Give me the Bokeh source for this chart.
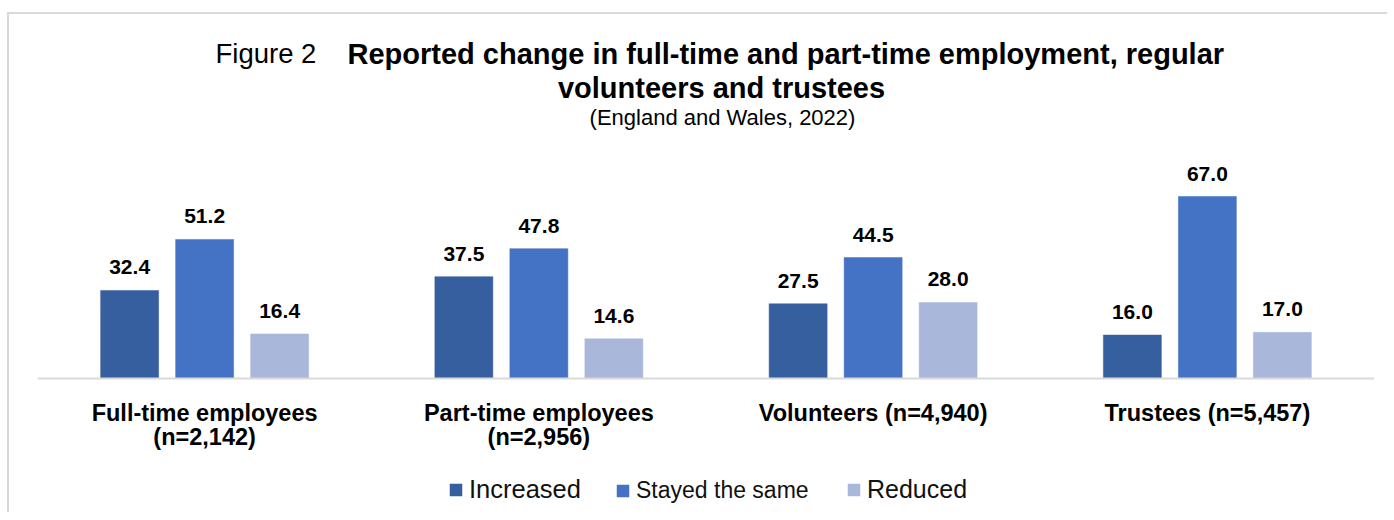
from bokeh.plotting import figure
from bokeh.models import (FactorRange, ColumnDataSource, Label, LabelSet, Legend,
                          LegendItem, Span, Range1d)
from bokeh.transform import dodge
from bokeh.core.properties import value
from bokeh.embed import file_html
from bokeh.resources import INLINE

# ---------------- data ----------------
categories = ["Full-time employees\n(n=2,142)", "Part-time employees\n(n=2,956)",
              "Volunteers (n=4,940)", "Trustees (n=5,457)"]
series = ["Increased", "Stayed the same", "Reduced"]
increased = [32.4, 37.5, 27.5, 16.0]
stayed = [51.2, 47.8, 44.5, 67.0]
reduced = [16.4, 14.6, 28.0, 17.0]
colors = ["#365F9F", "#4472C4", "#A9B7DB"]

FONT = "Liberation Sans"

lines = [c.split("\n") + [""] for c in categories]
src = ColumnDataSource(dict(
    cat=categories,
    line1=[l[0] for l in lines],
    line2=[l[1] for l in lines],
    zero=[0] * len(categories),
    inc=increased, sta=stayed, red=reduced,
    inc_l=[f"{v:.1f}" for v in increased],
    sta_l=[f"{v:.1f}" for v in stayed],
    red_l=[f"{v:.1f}" for v in reduced],
))

# ---------------- geometry (pixels, page coordinates) ----------------
OX, OY = 9, 14                # canvas origin on the page (css margin + border)
W, H = 1380, 500
FRAME_L, FRAME_R = 37, 1374   # frame spans the width of the category axis
AXIS_Y = 378                  # page y of the value 0 line
PPU = 182 / 67                # pixels per percentage point

fw = (FRAME_R - FRAME_L) / len(categories)
y_top = (AXIS_Y - OY) / PPU
y_bot = -(OY + H - AXIS_Y) / PPU

p = figure(x_range=FactorRange(*categories), y_range=Range1d(y_bot, y_top),
           width=W, height=H, output_backend="svg", toolbar_location=None,
           title=None, x_axis_location=None, y_axis_location=None,
           min_border_left=FRAME_L - OX, min_border_right=OX + W - FRAME_R,
           min_border_top=0, min_border_bottom=0)
p.styles = {"margin-left": "7px", "margin-top": "12px",
            "border-left": "2px solid #d9d9d9", "border-top": "2px solid #d9d9d9"}
p.background_fill_color = "white"
p.border_fill_color = "white"
p.outline_line_color = None
p.xgrid.visible = False
p.ygrid.visible = False

# category axis line
p.add_layout(Span(location=0, dimension="width", line_color="#d9d9d9", line_width=2))

# category labels under the axis line (each line centred)
for fld, off in (("line1", -21), ("line2", -45)):
    p.add_layout(LabelSet(x="cat", y="zero", text=fld, source=src, y_offset=off,
                          text_align="center", text_baseline="top",
                          text_font=value(FONT), text_font_style="bold",
                          text_font_size="23.5px", text_color="#000000"))

# ---------------- bars + value labels ----------------
step = 75 / fw
bw = 58 / fw
offsets = [-step, 0.0, step]
fields = ["inc", "sta", "red"]
renderers = []
for off, f, c in zip(offsets, fields, colors):
    r = p.vbar(x=dodge("cat", off, range=p.x_range), top=f, width=bw, source=src,
               fill_color=c, line_color=c, line_width=0.5)
    renderers.append(r)
    p.add_layout(LabelSet(x=dodge("cat", off, range=p.x_range), y=f, text=f + "_l", source=src,
                          y_offset=16, text_align="center", text_baseline="alphabetic",
                          text_font=value(FONT), text_font_style="bold",
                          text_font_size="21px", text_color="#000000"))

# ---------------- titles ----------------
def dx(px):
    return (px - FRAME_L) / fw
def dy(py):
    return (AXIS_Y - py) / PPU

p.add_layout(Label(x=dx(215), y=dy(53), text="Figure 2", text_font=FONT,
                   text_font_size="27.5px", text_color="#000000",
                   text_align="left", text_baseline="alphabetic"))
p.add_layout(Label(x=dx(347), y=dy(53), text="Reported change in full-time and part-time employment, regular",
                   text_font=FONT, text_font_style="bold",
                   text_font_size="29px", text_color="#000000",
                   text_align="left", text_baseline="alphabetic"))
p.add_layout(Label(x=dx(721), y=dy(87), text="volunteers and trustees",
                   text_font=FONT, text_font_style="bold",
                   text_font_size="29px", text_color="#000000",
                   text_align="center", text_baseline="alphabetic"))
p.add_layout(Label(x=dx(722), y=dy(117), text="(England and Wales, 2022)",
                   text_font=FONT, text_font_size="22px", text_color="#000000",
                   text_align="center", text_baseline="alphabetic"))

# ---------------- legend (one per entry, inside the frame) ----------------
leg_x = [448, 615, 846]       # page x of each legend square
leg_size = ["25.5px", "23px", "25px"]
for name, r, lx, fs in zip(series, renderers, leg_x, leg_size):
    leg = Legend(items=[LegendItem(label=name, renderers=[r])],
                 location=(lx - FRAME_L, 10), orientation="horizontal",
                 padding=0, margin=0, spacing=0,
                 glyph_width=15, glyph_height=15, label_standoff=6,
                 label_text_font=FONT, label_text_font_size=fs,
                 label_text_color="#111111",
                 border_line_color=None, background_fill_alpha=0)
    p.add_layout(leg)

open("out.html", "w").write(file_html(p, INLINE))
